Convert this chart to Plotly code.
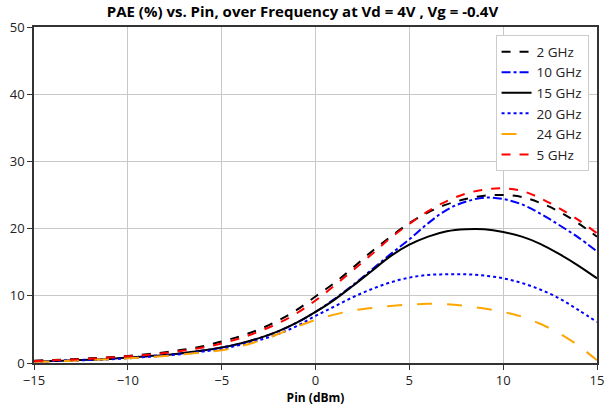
import plotly.graph_objects as go

pin = list(range(-15, 16))

pae_2ghz = [0.35, 0.45, 0.55, 0.7, 0.85, 1.05, 1.3, 1.6, 2.0, 2.5, 3.2, 4.0, 5.0, 6.3, 7.9, 9.9,
            11.9, 14.2, 16.6, 18.8, 20.8, 22.4, 23.6, 24.4, 24.9, 25.0, 24.7, 23.8, 22.5, 20.8, 18.8]
pae_10ghz = [0.25, 0.3, 0.4, 0.5, 0.6, 0.8, 1.0, 1.2, 1.5, 1.85, 2.3, 2.9, 3.7, 4.7, 6.0, 7.6,
             9.5, 11.6, 13.9, 16.2, 18.4, 20.8, 22.8, 24.0, 24.6, 24.4, 23.6, 22.2, 20.5, 18.7, 16.6]
pae_15ghz = [0.25, 0.3, 0.4, 0.5, 0.6, 0.8, 1.0, 1.2, 1.5, 1.85, 2.3, 2.9, 3.7, 4.7, 6.0, 7.6,
             9.4, 11.5, 13.7, 15.9, 17.6, 18.8, 19.6, 19.9, 19.9, 19.5, 18.8, 17.7, 16.2, 14.5, 12.6]
pae_20ghz = [0.2, 0.3, 0.35, 0.45, 0.55, 0.7, 0.9, 1.1, 1.35, 1.7, 2.1, 2.7, 3.4, 4.3, 5.5, 7.0,
             8.4, 9.8, 11.0, 12.0, 12.7, 13.1, 13.2, 13.2, 13.0, 12.6, 11.9, 10.9, 9.6, 7.9, 6.1]
pae_24ghz = [0.2, 0.25, 0.35, 0.45, 0.55, 0.7, 0.85, 1.05, 1.3, 1.6, 1.9, 2.5, 3.3, 4.3, 5.4, 6.4,
             7.2, 7.8, 8.2, 8.5, 8.7, 8.8, 8.75, 8.5, 8.1, 7.6, 6.9, 5.8, 4.4, 2.6, 0.4]
pae_5ghz = [0.3, 0.4, 0.5, 0.65, 0.8, 1.0, 1.2, 1.5, 1.85, 2.3, 2.9, 3.7, 4.7, 5.9, 7.4, 9.3,
            11.5, 13.8, 16.2, 18.6, 20.7, 22.6, 24.1, 25.2, 25.8, 26.0, 25.6, 24.5, 23.0, 21.3, 19.3]

series = [
    ("2 GHz", pae_2ghz, "black", "dash"),
    ("10 GHz", pae_10ghz, "blue", "dashdot"),
    ("15 GHz", pae_15ghz, "black", "solid"),
    ("20 GHz", pae_20ghz, "blue", "dot"),
    ("24 GHz", pae_24ghz, "orange", "longdash"),
    ("5 GHz", pae_5ghz, "red", "dash"),
]

fig = go.Figure()
for name, vals, color, dash in series:
    fig.add_trace(go.Scatter(x=pin, y=vals, mode="lines", name=name,
                             line=dict(color=color, dash=dash, width=2, shape="spline")))

font = "Open Sans, Liberation Sans, sans-serif"
fig.update_layout(
    width=605, height=412,
    margin=dict(l=34, r=8, t=27, b=49),
    paper_bgcolor="white", plot_bgcolor="white",
    font=dict(family=font, size=13, color="#222"),
    title=dict(text="<b>PAE (%) vs. Pin, over Frequency at Vd = 4V , Vg = -0.4V</b>",
               x=0.5, xanchor="center", y=0.985, yanchor="top",
               font=dict(size=15, color="black")),
    showlegend=True,
    legend=dict(x=0.985, y=0.975, xanchor="right", yanchor="top",
                bgcolor="white", bordercolor="#cccccc", borderwidth=1,
                font=dict(size=13.5, color="#222"), tracegroupgap=0, itemwidth=30),
    xaxis=dict(range=[-15, 15], dtick=5, tick0=-15, showgrid=True, gridcolor="#c8c8c8",
               showline=True, linecolor="#333", linewidth=1.5, mirror=True, automargin=False,
               ticks="outside", ticklen=5, tickcolor="#333", zeroline=False,
               title=dict(text="<b>Pin (dBm)</b>", font=dict(size=12, color="black"), standoff=4)),
    yaxis=dict(range=[0, 50], dtick=10, showgrid=True, gridcolor="#c8c8c8",
               showline=True, linecolor="#333", linewidth=1.5, mirror=True, automargin=False,
               ticks="outside", ticklen=5, tickcolor="#333", zeroline=False),
)

fig.write_html("out.html", config={"displayModeBar": False},
               post_script="document.body.style.margin='0';document.body.style.overflow='hidden';")
